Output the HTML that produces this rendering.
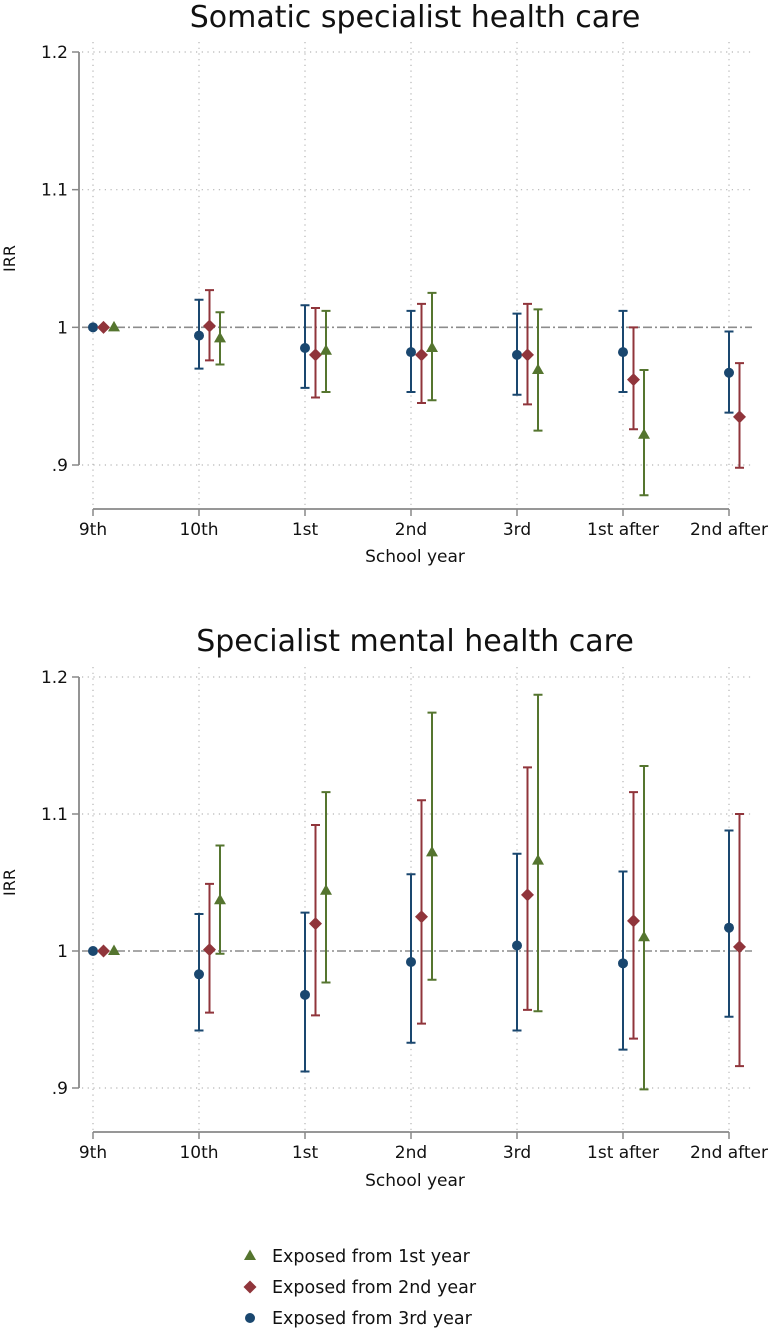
<!DOCTYPE html>
<html><head><meta charset="utf-8"><style>
html,body{margin:0;padding:0;background:#fff;}
svg{display:block;font-family:"DejaVu Sans","Liberation Sans",sans-serif;}
</style></head><body>
<svg id="chart" width="774" height="1331" viewBox="0 0 774 1331" xmlns="http://www.w3.org/2000/svg">
<rect width="774" height="1331" fill="#fff"/>
<g id="p1"></g>
<g id="p2"></g>
<g id="legend"></g>
</svg>
<script>
const categories = ["9th","10th","1st","2nd","3rd","1st after","2nd after"];
const yTicks = [0.9,1.0,1.1,1.2];
const yTickLabels = [".9","1","1.1","1.2"];
const seriesNames = ["Exposed from 3rd year","Exposed from 2nd year","Exposed from 1st year"];
// Panel 1: Somatic specialist health care
const s1Blue = [1.000,0.994,0.985,0.982,0.980,0.982,0.967];
const s1BlueLo = [null,0.970,0.956,0.953,0.951,0.953,0.938];
const s1BlueHi = [null,1.020,1.016,1.012,1.010,1.012,0.997];
const s1Red = [1.000,1.001,0.980,0.980,0.980,0.962,0.935];
const s1RedLo = [null,0.976,0.949,0.945,0.944,0.926,0.898];
const s1RedHi = [null,1.027,1.014,1.017,1.017,1.000,0.974];
const s1Green = [1.000,0.992,0.983,0.985,0.969,0.922,null];
const s1GreenLo = [null,0.973,0.953,0.947,0.925,0.878,null];
const s1GreenHi = [null,1.011,1.012,1.025,1.013,0.969,null];
// Panel 2: Specialist mental health care
const s2Blue = [1.000,0.983,0.968,0.992,1.004,0.991,1.017];
const s2BlueLo = [null,0.942,0.912,0.933,0.942,0.928,0.952];
const s2BlueHi = [null,1.027,1.028,1.056,1.071,1.058,1.088];
const s2Red = [1.000,1.001,1.020,1.025,1.041,1.022,1.003];
const s2RedLo = [null,0.955,0.953,0.947,0.957,0.936,0.916];
const s2RedHi = [null,1.049,1.092,1.110,1.134,1.116,1.100];
const s2Green = [1.000,1.037,1.044,1.072,1.066,1.010,null];
const s2GreenLo = [null,0.998,0.977,0.979,0.956,0.899,null];
const s2GreenHi = [null,1.077,1.116,1.174,1.187,1.135,null];

const NS="http://www.w3.org/2000/svg";
const COLORS={blue:"#1a476f",red:"#90353b",green:"#55752f"};
function mk(parent,tag,attrs,text){const e=document.createElementNS(NS,tag);for(const k in attrs)e.setAttribute(k,attrs[k]);if(text!==undefined)e.textContent=text;parent.appendChild(e);return e;}

function panel(g,title,y12,y09,axisY,labelY,xtitleY,titleY,data){
  const xAt=i=>93+106*i;
  const yAt=v=>y09+(v-0.9)*(y12-y09)/0.3;
  const t=mk(g,"text",{x:415,y:titleY,"text-anchor":"middle","font-size":"30",fill:"#111"},title);
  
  
  yTicks.forEach((v,i)=>{
    const y=yAt(v);
    if(v!==1.0){const l=mk(g,"line",{x1:82,x2:752,y1:y,y2:y,stroke:"#b4b4b4","stroke-width":1.2,"stroke-dasharray":"1.2 4.5"});
    
    }
    const tk=mk(g,"line",{x1:72,x2:79,y1:y,y2:y,stroke:"#888","stroke-width":1.5});
    
    
    const lb=mk(g,"text",{x:68,y:y+6,"text-anchor":"end","font-size":"17",fill:"#111"},yTickLabels[i]);
    
    
  });
  categories.forEach((c,i)=>{
    const x=xAt(i);
    const l=mk(g,"line",{x1:x,x2:x,y1:y12-10,y2:axisY,stroke:"#b4b4b4","stroke-width":1.2,"stroke-dasharray":"1.2 4.5"});
    
    
    const tk=mk(g,"line",{x1:x,x2:x,y1:axisY,y2:axisY+7,stroke:"#888","stroke-width":1.5});
    
    
    const lb=mk(g,"text",{x:x,y:labelY,"text-anchor":"middle","font-size":"17",fill:"#111"},c);
    
    
  });
  const ya=mk(g,"line",{x1:79,x2:79,y1:y12,y2:y09,stroke:"#888","stroke-width":1.8});
  
  
  const xa=mk(g,"line",{x1:xAt(0),x2:xAt(6),y1:axisY,y2:axisY,stroke:"#888","stroke-width":1.8});
  
  
  const ref=mk(g,"line",{x1:82,x2:752,y1:yAt(1),y2:yAt(1),stroke:"#8c8c8c","stroke-width":1.6,"stroke-dasharray":"9 3 2 3"});
  
  
  const yt=mk(g,"text",{x:0,y:0,"text-anchor":"middle","font-size":"16",fill:"#111",transform:`translate(15,${(y12+y09)/2}) rotate(-90)`},"IRR");
  
  
  const xt=mk(g,"text",{x:415,y:xtitleY,"text-anchor":"middle","font-size":"17",fill:"#111"},"School year");
  
  
  data.forEach(s=>{
    s.vals.forEach((v,i)=>{
      if(v===null)return;
      const x=xAt(i)+s.off;
      if(s.lo[i]!==null){
        const yl=yAt(s.lo[i]),yh=yAt(s.hi[i]);
        const ci=mk(g,"path",{d:`M${x},${yl}V${yh}M${x-4.5},${yl}H${x+4.5}M${x-4.5},${yh}H${x+4.5}`,stroke:s.col,"stroke-width":2,fill:"none"});
        
        
      }
      const y=yAt(v);let m;
      if(s.shape==="circle")m=mk(g,"circle",{cx:x,cy:y,r:5,fill:s.col});
      else if(s.shape==="diamond")m=mk(g,"polygon",{points:`${x},${y-6.5} ${x+6.5},${y} ${x},${y+6.5} ${x-6.5},${y}`,fill:s.col});
      else m=mk(g,"polygon",{points:`${x},${y-6.5} ${x+6},${y+4} ${x-6},${y+4}`,fill:s.col});
      
      
    });
  });
}
panel(document.getElementById("p1"),"Somatic specialist health care",52,465,509,535,562,27,[
 {vals:s1Blue,lo:s1BlueLo,hi:s1BlueHi,col:COLORS.blue,off:0,shape:"circle"},
 {vals:s1Red,lo:s1RedLo,hi:s1RedHi,col:COLORS.red,off:10.5,shape:"diamond"},
 {vals:s1Green,lo:s1GreenLo,hi:s1GreenHi,col:COLORS.green,off:21,shape:"triangle"}]);
panel(document.getElementById("p2"),"Specialist mental health care",677,1088,1132,1158,1186,651,[
 {vals:s2Blue,lo:s2BlueLo,hi:s2BlueHi,col:COLORS.blue,off:0,shape:"circle"},
 {vals:s2Red,lo:s2RedLo,hi:s2RedHi,col:COLORS.red,off:10.5,shape:"diamond"},
 {vals:s2Green,lo:s2GreenLo,hi:s2GreenHi,col:COLORS.green,off:21,shape:"triangle"}]);
const lg=document.getElementById("legend");
const legItems=[{n:seriesNames[2],c:COLORS.green,s:"triangle",y:1256},{n:seriesNames[1],c:COLORS.red,s:"diamond",y:1287},{n:seriesNames[0],c:COLORS.blue,s:"circle",y:1318}];
legItems.forEach(it=>{
  const x=250,y=it.y;let m;
  if(it.s==="circle")m=mk(lg,"circle",{cx:x,cy:y,r:5,fill:it.c});
  else if(it.s==="diamond")m=mk(lg,"polygon",{points:`${x},${y-6.5} ${x+6.5},${y} ${x},${y+6.5} ${x-6.5},${y}`,fill:it.c});
  else m=mk(lg,"polygon",{points:`${x},${y-6.5} ${x+6},${y+4} ${x-6},${y+4}`,fill:it.c});
  
  
  const t=mk(lg,"text",{x:272,y:y+6,"font-size":"17.5",fill:"#111"},it.n);
  
  
});
</script>
</body></html>
